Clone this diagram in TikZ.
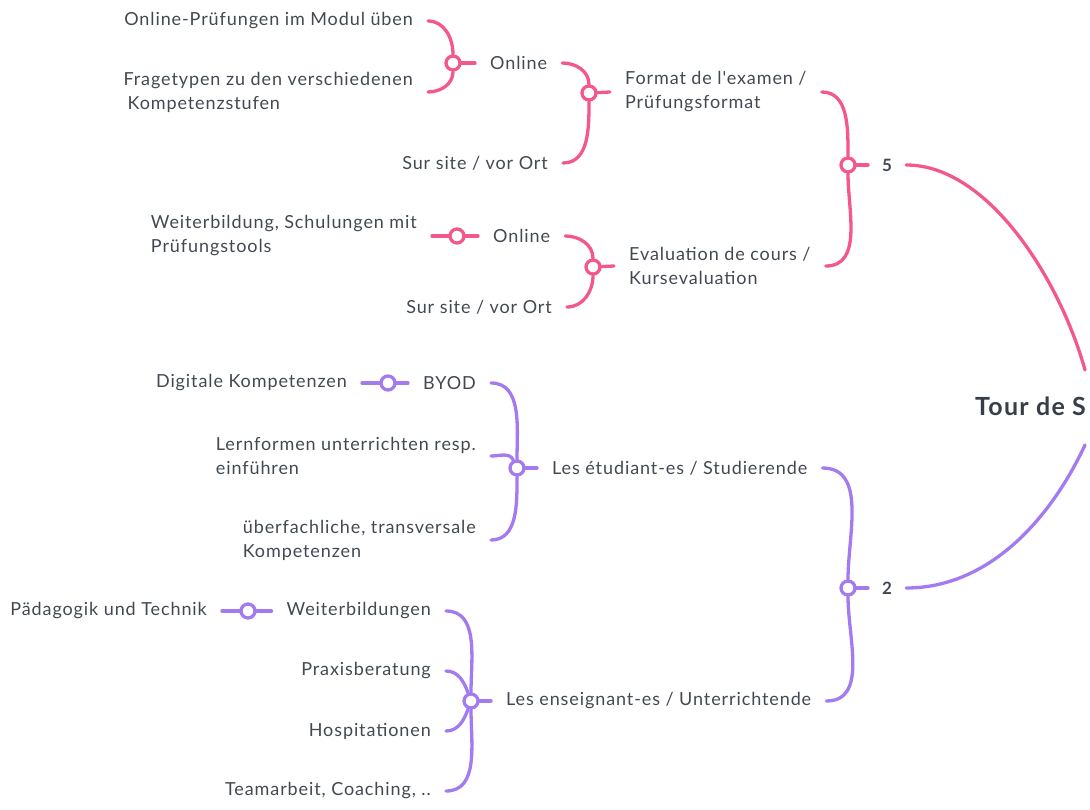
\documentclass[tikz,border=0pt]{standalone}
\usepackage{fontspec}
\defaultfontfeatures[\rmfamily]{}
\setmainfont[LetterSpace=5]{Lato}
\usetikzlibrary{backgrounds}
\definecolor{pk}{RGB}{244,88,138}
\definecolor{pu}{RGB}{163,122,240}
\definecolor{tx}{RGB}{66,73,82}
\definecolor{rt}{RGB}{55,62,70}
\begin{document}
\begin{tikzpicture}[x=1pt,y=-1pt,
  every node/.style={text=tx},
  lbl/.style={inner xsep=15pt, inner ysep=2pt, align=left, font=\fontsize{18}{24}\selectfont},
  num/.style={inner xsep=14pt, inner ysep=2pt, font=\fontsize{17}{24}\selectfont\bfseries},
  dot/.style={circle, draw, line width=3.3pt, fill=white, minimum size=14pt, inner sep=0pt},
  pl/.style={draw=pk, line width=3.3pt, line cap=round},
  ul/.style={draw=pu, line width=3.3pt, line cap=round}]
\useasboundingbox (0,0) rectangle (1090,810);
% root
\node[anchor=west, inner sep=0pt, text=rt, font=\fontsize{25}{28}\selectfont\bfseries] (root) at (975,406) {Tour de S};
\coordinate (rp) at (1085,370);
\coordinate (rq) at (1085,445);
% pink branch
\node[num, anchor=west] (five) at (868,165) {5};
\node[dot, draw=pk] (c5) at (848,165) {};
\node[lbl, anchor=west] (fmt) at (610,92) {Format de l'examen /\\Prüfungsformat};
\node[lbl, anchor=west] (eva) at (614,266) {Evaluation de cours /\\Kursevaluation};
\node[dot, draw=pk] (cf) at (589,93) {};
\node[dot, draw=pk] (ce) at (593,267) {};
\node[lbl, anchor=west] (on1) at (475,63) {Online};
\node[lbl, anchor=east] (sur1) at (563,163) {Sur site / vor Ort};
\node[dot, draw=pk] (co1) at (453,63) {};
\node[lbl, anchor=east] (p1) at (428,21) {Online-Prüfungen im Modul üben};
\node[lbl, anchor=east] (p2) at (428,92) {Fragetypen zu den verschiedenen\\\hspace*{4pt}Kompetenzstufen};
\node[lbl, anchor=west] (on2) at (478,236) {Online};
\node[lbl, anchor=east] (sur2) at (567,307) {Sur site / vor Ort};
\node[dot, draw=pk] (co2) at (457,236) {};
\node[lbl, anchor=east] (w1) at (432,236) {Weiterbildung, Schulungen mit\\Prüfungstools};
% purple branch
\node[num, anchor=west] (two) at (868,588) {2};
\node[dot, draw=pu] (c2) at (848,588) {};
\node[lbl, anchor=west] (stud) at (537,468) {Les étudiant-es / Studierende};
\node[lbl, anchor=west] (ens) at (491,701) {Les enseignant-es / Unterrichtende};
\node[dot, draw=pu] (cs) at (517,468) {};
\node[dot, draw=pu] (cen) at (471,701) {};
\node[lbl, anchor=west] (byod) at (408,383) {BYOD};
\node[dot, draw=pu] (cb) at (388,383) {};
\node[lbl, anchor=east] (dk) at (362,383) {Digitale Kompetenzen};
\node[lbl, anchor=east] (lern) at (491,456) {Lernformen unterrichten resp.\\einführen};
\node[lbl, anchor=east] (ueber) at (491,540) {überfachliche, transversale\\Kompetenzen};
\node[lbl, anchor=east] (weit) at (446,611) {Weiterbildungen};
\node[dot, draw=pu] (cw) at (248,611) {};
\node[lbl, anchor=east] (ped) at (222,611) {Pädagogik und Technik};
\node[lbl, anchor=east] (prax) at (446,671) {Praxisberatung};
\node[lbl, anchor=east] (hosp) at (446,731) {Hospitationen};
\node[lbl, anchor=east] (team) at (446,791) {Teamarbeit, Coaching, ..};
\begin{scope}[on background layer]
  % pink connectors
  \draw[pl] (five.east) .. controls +(82,0) and +(-25,-90) .. (rp);
  \draw[pl] (five.west) -- (c5);
  \draw[pl] (fmt) to[out=0,in=90] (c5);
  \draw[pl] (eva) to[out=0,in=-90] (c5);
  \draw[pl] (fmt.west) -- (cf);
  \draw[pl] (eva.west) -- (ce);
  \draw[pl] (on1) to[out=0,in=90] (cf);
  \draw[pl] (sur1) to[out=0,in=-90] (cf);
  \draw[pl] (on1.west) -- (co1);
  \draw[pl] (p1) to[out=0,in=90] (co1);
  \draw[pl] (p2) to[out=0,in=-90] (co1);
  \draw[pl] (on2) to[out=0,in=90] (ce);
  \draw[pl] (sur2) to[out=0,in=-90] (ce);
  \draw[pl] (w1) -- (on2);
  % purple connectors
  \draw[ul] (two.east) .. controls +(82,0) and +(-35,75) .. (rq);
  \draw[ul] (two.west) -- (c2);
  \draw[ul] (stud) to[out=0,in=90] (c2);
  \draw[ul] (ens) to[out=0,in=-90] (c2);
  \draw[ul] (stud.west) -- (cs);
  \draw[ul] (byod) to[out=0,in=90] (cs);
  \draw[ul] (lern) to[out=0,in=115] (cs);
  \draw[ul] (ueber) to[out=0,in=-90] (cs);
  \draw[ul] (dk) -- (byod);
  \draw[ul] (ens.west) -- (cen);
  \draw[ul] (weit) to[out=0,in=90] (cen);
  \draw[ul] (prax) to[out=0,in=110] (cen);
  \draw[ul] (hosp) to[out=0,in=-110] (cen);
  \draw[ul] (team) to[out=0,in=-90] (cen);
  \draw[ul] (ped) -- (weit);
\end{scope}
\end{tikzpicture}
\end{document}
